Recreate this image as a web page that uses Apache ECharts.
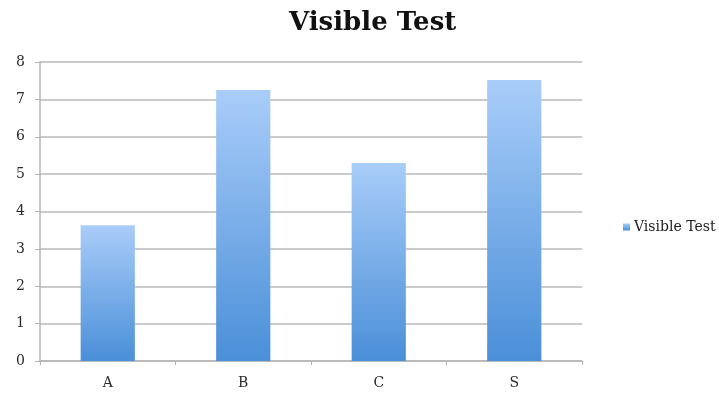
<!DOCTYPE html>
<html>
<head>
<meta charset="utf-8">
<script src="https://cdn.jsdelivr.net/npm/echarts@6/dist/echarts.min.js"></script>
<style>
  html, body { margin: 0; padding: 0; background: #fff; }
  #chart { width: 719px; height: 394px; }
</style>
</head>
<body>
<div id="chart"></div>
<script>
const categories = ['A', 'B', 'C', 'S']
const values = [3.63, 7.25, 5.3, 7.52]
const seriesName = 'Visible Test'

const serif = '"DejaVu Serif", "Liberation Serif", serif'

const chart = echarts.init(document.getElementById('chart'))
chart.setOption({
  animation: false,
  title: {
    text: 'Visible Test',
    left: 284,
    top: 5,
    textStyle: { fontFamily: serif, fontSize: 26, fontWeight: 'bold', color: '#111' },
  },
  legend: {
    data: [seriesName],
    left: 618,
    top: 215,
    itemWidth: 7,
    itemHeight: 7,
    itemGap: 4,
    icon: 'rect',
    textStyle: { fontFamily: serif, fontSize: 14, color: '#222', padding: [0, 0, 0, -1] },
  },
  grid: { left: 40, right: 137, top: 62, bottom: 33 },
  xAxis: {
    type: 'category',
    data: categories,
    axisLine: { lineStyle: { color: '#b5b5b5', width: 1.5 } },
    axisTick: { show: true, length: 4, lineStyle: { color: '#b5b5b5' } },
    axisLabel: { fontFamily: serif, fontSize: 14, color: '#2a2a2a', margin: 15 },
  },
  yAxis: {
    type: 'value',
    min: 0,
    max: 8,
    interval: 1,
    axisLine: { show: true, lineStyle: { color: '#b5b5b5', width: 1.5 } },
    axisTick: { show: true, length: 5, lineStyle: { color: '#b5b5b5' } },
    axisLabel: { fontFamily: serif, fontSize: 14, color: '#2a2a2a', margin: 15 },
    splitLine: { lineStyle: { color: '#b8b8b8', width: 1.5 } },
  },
  series: [
    {
      name: seriesName,
      type: 'bar',
      data: values,
      barWidth: '40%',
      itemStyle: {
        color: new echarts.graphic.LinearGradient(0, 0, 0, 1, [
          { offset: 0, color: '#a9cdf9' },
          { offset: 1, color: '#4a8fd8' },
        ]),
      },
    },
  ],
})
</script>
</body>
</html>
